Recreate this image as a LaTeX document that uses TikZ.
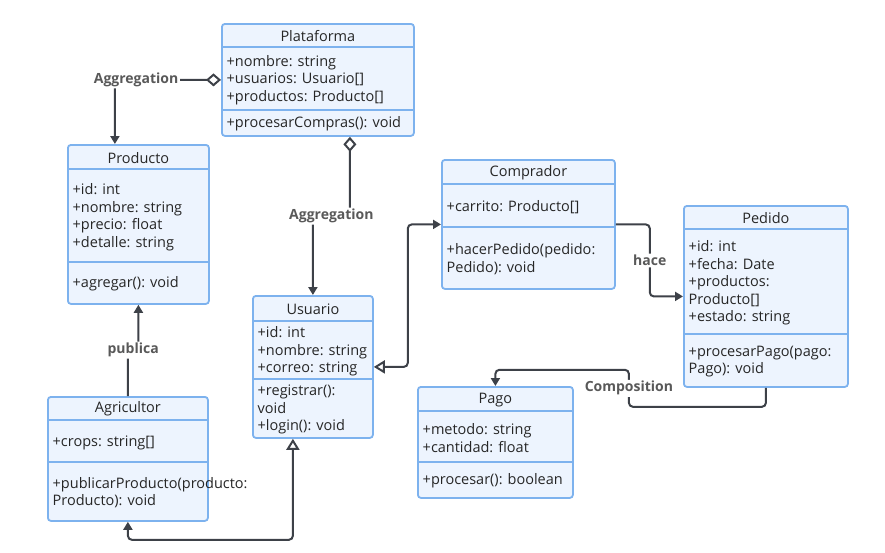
\documentclass[tikz,border=0pt]{standalone}
\usepackage{fontspec}
\setmainfont{Open Sans}
\usetikzlibrary{arrows.meta,positioning,calc}
\definecolor{boxfill}{HTML}{EDF4FE}
\definecolor{boxline}{HTML}{7DB2EE}
\definecolor{wirecol}{HTML}{3D4148}
\definecolor{ink}{HTML}{262626}
\definecolor{lblgray}{HTML}{595959}
% id, x/y of top left, width, height, first rule, second rule, title, attributes, methods
\newcommand{\umlclass}[9]{%
  \node[cls,minimum width=#3,minimum height=#4,anchor=north west] (#1) at (#2) {};
  \node[ttl,minimum width=#3,minimum height=#5,anchor=north] (#1t) at (#1.north) {#7};
  \draw[rule] ($(#1.north west)+(0,#5)$) -- ($(#1.north east)+(0,#5)$);
  \draw[rule] ($(#1.north west)+(0,#6)$) -- ($(#1.north east)+(0,#6)$);
  \node[txt,anchor=west] (#1a) at ($(#1.north west)+(0,{(#5+#6)/2})$) {#8};
  \node[txt,anchor=west] (#1m) at ($(#1.north west)+(0,{(#6+#4)/2})$) {#9};
}

\begin{document}
\begin{tikzpicture}[x=1pt,y=-1pt,>={Triangle[width=9pt,length=8pt]},
  cls/.style={rectangle,rounded corners=3pt,draw=boxline,line width=1.8pt,fill=boxfill,inner sep=0pt},
  rule/.style={draw=boxline,line width=1.6pt},
  ttl/.style={inner sep=0pt,yshift=-1pt,text=ink,font=\fontsize{14.5}{16}\selectfont},
  txt/.style={align=left,inner xsep=5.5pt,inner ysep=0pt,yshift=-1.5pt,text=ink,font=\fontsize{14.5}{17.5}\selectfont},
  link/.style={draw=wirecol,line width=2pt,rounded corners=4pt},
  lbl/.style={fill=white,inner sep=1.5pt,text=lblgray,font=\bfseries\fontsize{14}{16}\selectfont}]
\useasboundingbox (0,0) rectangle (885,552);

\umlclass{Pl}{221,23}{192}{112}{24}{87}{Plataforma}
  {+nombre: string\\+usuarios: Usuario[]\\+productos: Producto[]}{+procesarCompras(): void}
\umlclass{Pr}{67,144}{141}{159}{25}{118}{Producto}
  {+id: int\\+nombre: string\\+precio: float\\+detalle: string}{+agregar(): void}
\umlclass{Us}{252,295}{120}{142}{26}{84}{Usuario}
  {+id: int\\+nombre: string\\+correo: string}{+registrar():\\void\\+login(): void}
\umlclass{Co}{441,159}{173}{129}{25}{68}{Comprador}
  {+carrito: Producto[]}{+hacerPedido(pedido:\\Pedido): void}
\umlclass{Pe}{683,205}{164}{181}{24}{129}{Pedido}
  {+id: int\\+fecha: Date\\+productos:\\Producto[]\\+estado: string}{+procesarPago(pago:\\Pago): void}
\umlclass{Pa}{417,386}{155}{111}{25}{76}{Pago}
  {+metodo: string\\+cantidad: float}{+procesar(): boolean}
\umlclass{Ag}{47,396}{160}{124}{24}{66}{Agricultor}
  {+crops: string[]}{+publicarProducto(producto:\\Producto): void}

% relations
\draw[link,{Diamond[open,width=13pt,length=15pt]}->] (Pl.west) -| node[lbl,pos=0.4]{Aggregation} ([xshift=-23.5pt]Pr.north);
\draw[link,{Diamond[open,width=13pt,length=15pt]}->] ([xshift=32pt]Pl.south) |- node[lbl,pos=0.75]{Aggregation} (Us.north |- 0,216) -- (Us.north);
\draw[link,{Triangle[open,width=13pt,length=11pt]}->] (Us.east) -- ++(34,0) |- (Co.west);
\draw[link,->] (Co.east) -- ++(34,0) |- node[lbl,pos=0.25]{hace} (Pe.west);
\draw[link,->] (Pe.south) -- ++(0,19) -| node[lbl,pos=0.75]{Composition} ++(-137,-37) -| (Pa.north);
\draw[link,->] (Ag.north) -- ++(0,-46) -| node[lbl,pos=0.25]{publica} (Pr.south);
\draw[link,<-{Triangle[open,width=13pt,length=11pt]}] (Ag.south) -- ++(0,18) -| ([xshift=-20pt]Us.south);
\end{tikzpicture}
\end{document}
